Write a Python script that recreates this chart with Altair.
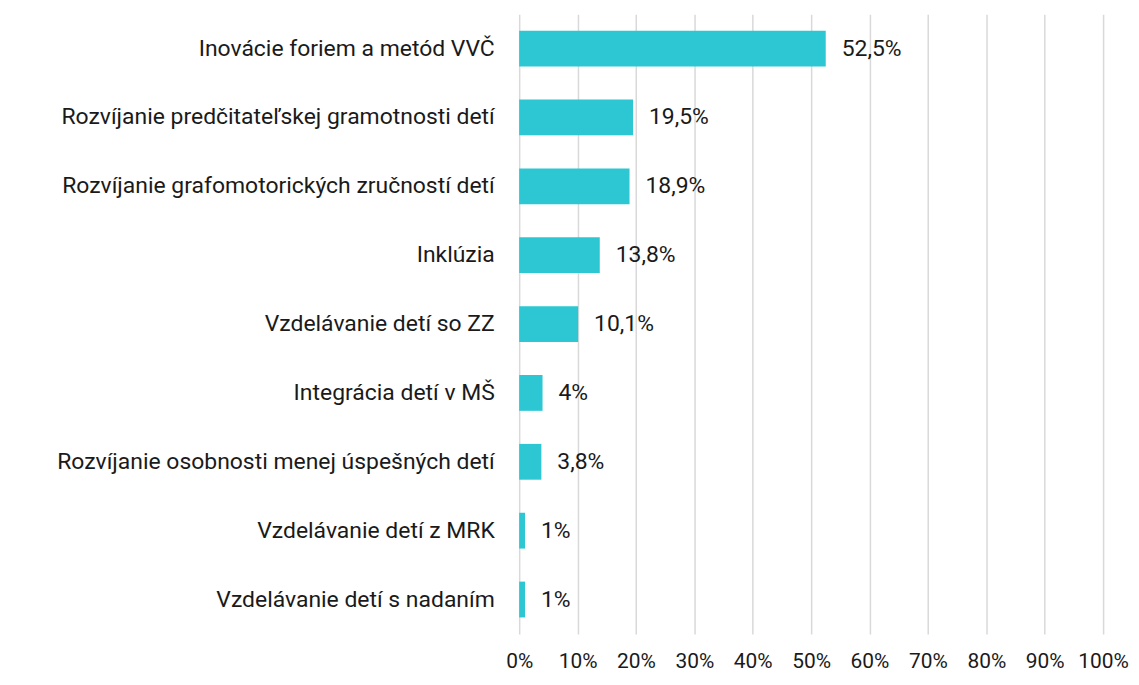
import altair as alt
import pandas as pd

categories = [
    "Inovácie foriem a metód VVČ",
    "Rozvíjanie predčitateľskej gramotnosti detí",
    "Rozvíjanie grafomotorických zručností detí",
    "Inklúzia",
    "Vzdelávanie detí so ZZ",
    "Integrácia detí v MŠ",
    "Rozvíjanie osobnosti menej úspešných detí",
    "Vzdelávanie detí z MRK",
    "Vzdelávanie detí s nadaním",
]
values = [52.5, 19.5, 18.9, 13.8, 10.1, 4.0, 3.8, 1.0, 1.0]
labels = ["52,5%", "19,5%", "18,9%", "13,8%", "10,1%", "4%", "3,8%", "1%", "1%"]
ticks = [0, 10, 20, 30, 40, 50, 60, 70, 80, 90, 100]

df = pd.DataFrame({"cat": categories, "val": values, "lab": labels})

FONT = "Roboto"
FS = 23
y_enc = alt.Y("cat:N", sort=categories, title=None,
              scale=alt.Scale(paddingInner=0.48, paddingOuter=0.24),
              axis=alt.Axis(labelFontSize=FS, labelFont=FONT, labelColor="#1a1a1a",
                            ticks=False, domain=False, labelPadding=25, labelLimit=600))
x_enc = alt.X("val:Q", title=None,
              scale=alt.Scale(domain=[0, 100], nice=False),
              axis=alt.Axis(values=ticks, labelExpr="datum.value + '%'",
                            labelFontSize=21, labelFont=FONT, labelColor="#1a1a1a",
                            labelOverlap=False, labelFlush=False,
                            ticks=False, domain=False, labelPadding=17,
                            grid=True, gridColor="#d9d9d9", gridWidth=1.5))

bars = alt.Chart(df).mark_bar(color="#2dc7d3").encode(y=y_enc, x=x_enc)
text = alt.Chart(df).mark_text(align="left", baseline="middle", dx=16, fontSize=FS,
                               font=FONT, color="#1a1a1a").encode(
    y=alt.Y("cat:N", sort=categories), x=alt.X("val:Q"), text="lab:N")

chart = (bars + text).properties(
    width=586, height=622,
    padding={"left": 513, "top": 5, "right": 28, "bottom": 40},
    autosize=alt.AutoSizeParams(type="none"),
    background="white",
).configure_view(stroke=None)

chart.save("out.html", embed_options={"renderer": "svg", "actions": False})
